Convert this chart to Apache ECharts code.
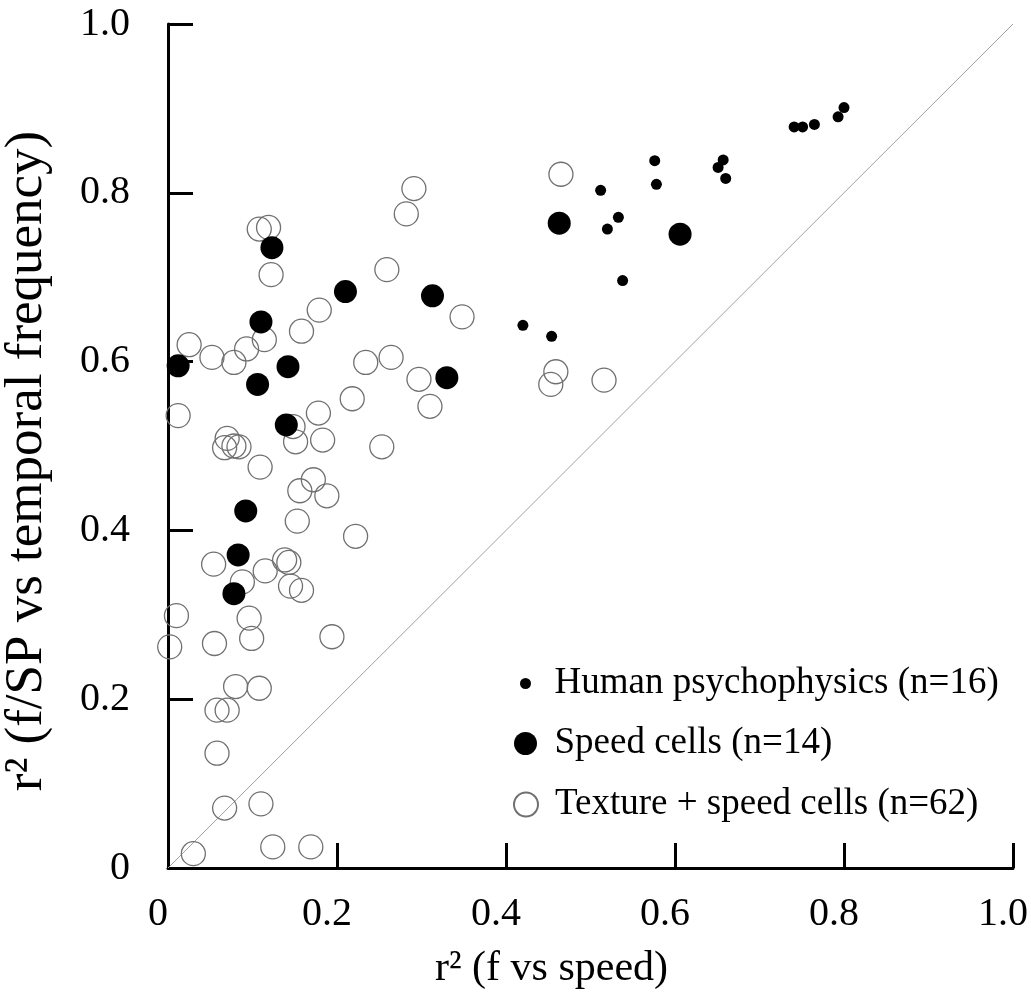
<!DOCTYPE html>
<html>
<head>
<meta charset="utf-8">
<script src="https://cdn.jsdelivr.net/npm/echarts@6/dist/echarts.min.js"></script>
<style>
  html, body { margin: 0; padding: 0; background: #fff; }
  #chart { width: 1031px; height: 997px; }
</style>
</head>
<body>
<div id="chart"></div>
<script>
// Human psychophysics (n=16)
var humanX = [0.420, 0.454, 0.512, 0.533, 0.520, 0.538, 0.576, 0.578, 0.657, 0.651, 0.660, 0.741, 0.751, 0.765, 0.793, 0.800];
var humanY = [0.643, 0.630, 0.803, 0.771, 0.757, 0.696, 0.838, 0.810, 0.839, 0.830, 0.817, 0.878, 0.878, 0.881, 0.890, 0.901];

// Speed cells (n=14)
var speedX = [0.123, 0.210, 0.313, 0.110, 0.012, 0.142, 0.106, 0.140, 0.092, 0.083, 0.078, 0.463, 0.606, 0.330];
var speedY = [0.735, 0.683, 0.678, 0.647, 0.595, 0.594, 0.573, 0.525, 0.423, 0.371, 0.325, 0.764, 0.751, 0.581];

// Texture + speed cells (n=62)
var textureX = [0.465, 0.291, 0.282, 0.108, 0.119, 0.122, 0.259, 0.348, 0.179, 0.158,
                0.114, 0.093, 0.025, 0.052, 0.078, 0.234, 0.264, 0.218, 0.178, 0.012,
                0.148, 0.151, 0.183, 0.070, 0.067, 0.084, 0.078, 0.253, 0.109, 0.172,
                0.156, 0.188, 0.153, 0.222, 0.054, 0.138, 0.143, 0.115, 0.088, 0.145,
                0.158, 0.010, 0.096, 0.099, 0.055, 0.194, 0.002, 0.080, 0.108, 0.058,
                0.070, 0.058, 0.067, 0.110, 0.030, 0.124, 0.169, 0.297, 0.310, 0.459,
                0.453, 0.516];
var textureY = [0.822, 0.805, 0.775, 0.757, 0.759, 0.703, 0.709, 0.653, 0.661, 0.636,
                0.626, 0.615, 0.620, 0.605, 0.599, 0.599, 0.605, 0.556, 0.539, 0.536,
                0.523, 0.505, 0.507, 0.509, 0.498, 0.499, 0.500, 0.499, 0.475, 0.460,
                0.447, 0.441, 0.411, 0.393, 0.360, 0.365, 0.362, 0.352, 0.339, 0.334,
                0.329, 0.299, 0.296, 0.272, 0.266, 0.274, 0.262, 0.215, 0.213, 0.187,
                0.187, 0.136, 0.071, 0.076, 0.017, 0.025, 0.025, 0.579, 0.547, 0.588,
                0.573, 0.578];

var seriesNames = ['Human psychophysics (n=16)', 'Speed cells (n=14)', 'Texture + speed cells (n=62)'];

function pairs(xs, ys) {
    return xs.map(function (x, i) { return [x, ys[i]]; });
}

var font = 'Liberation Serif';
var chart = echarts.init(document.getElementById('chart'));

// 坐标轴公共样式
function axisCommon(name, nameSize) {
    return {
        type: 'value',
        min: 0,
        max: 1,
        interval: 0.2,
        name: name,
        nameLocation: 'middle',
        nameTextStyle: { fontFamily: font, fontSize: nameSize, color: '#000' },
        axisLine: { show: true, lineStyle: { color: '#000', width: 3 } },
        axisTick: { show: true, inside: true, length: 25, lineStyle: { color: '#000', width: 3 } },
        axisLabel: {
            fontFamily: font, fontSize: 40, color: '#000',
            formatter: function (v) { return v === 0 ? '0' : v.toFixed(1); }
        },
        splitLine: { show: false }
    };
}

var xAxis = axisCommon('r\u00B2 (f vs speed)', 42);
xAxis.nameGap = 80;
xAxis.nameTextStyle.padding = [0, 78, 0, 0];
xAxis.axisLabel.margin = 26;
// 原图横轴刻度文字略向左偏
xAxis.axisLabel.padding = [0, 20, 0, 0];

var yAxis = axisCommon('r\u00B2 (f/SP vs temporal frequency)', 53);
yAxis.nameGap = 114;
yAxis.nameTextStyle.padding = [0, 30, 0, 0];
yAxis.axisLabel.margin = 38;

// 每个图例单独一个，图标大小不同
function legendFor(name, left, top, h) {
    return {
        data: [name],
        left: left,
        top: top,
        padding: 0,
        itemWidth: 48,
        itemHeight: h,
        selectedMode: false,
        textStyle: { fontFamily: font, fontSize: 37, color: '#000' }
    };
}

var option = {
    animation: false,
    backgroundColor: '#fff',
    grid: { left: 168, right: 18, top: 24, bottom: 129, outerBoundsMode: 'none', containLabel: false },
    xAxis: xAxis,
    yAxis: yAxis,
    legend: [
        legendFor(seriesNames[0], 520, 665, 11),
        legendFor(seriesNames[1], 514, 725, 23),
        legendFor(seriesNames[2], 513, 786, 24)
    ],
    series: [
        {
            // 对角线 y = x
            type: 'line',
            data: [[0, 0], [1, 1]],
            symbol: 'none',
            silent: true,
            lineStyle: { color: '#a0a0a0', width: 1 },
            z: 1
        },
        {
            name: seriesNames[2],
            type: 'scatter',
            data: pairs(textureX, textureY),
            symbol: 'circle',
            symbolSize: 24,
            itemStyle: { color: 'rgba(0,0,0,0)', borderColor: '#707070', borderWidth: 1.3, opacity: 1 },
            z: 2
        },
        {
            name: seriesNames[1],
            type: 'scatter',
            data: pairs(speedX, speedY),
            symbol: 'circle',
            symbolSize: 23,
            itemStyle: { color: '#000', opacity: 1 },
            z: 3
        },
        {
            name: seriesNames[0],
            type: 'scatter',
            data: pairs(humanX, humanY),
            symbol: 'circle',
            symbolSize: 11,
            itemStyle: { color: '#000', opacity: 1 },
            z: 4
        }
    ]
};

chart.setOption(option);
</script>
</body>
</html>
